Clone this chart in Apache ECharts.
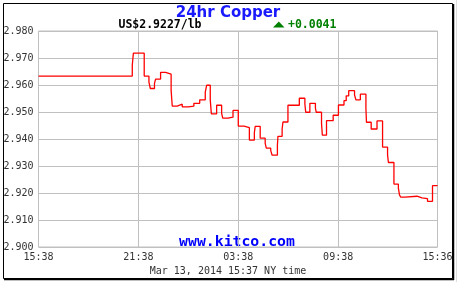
<!DOCTYPE html>
<html>
<head>
<meta charset="utf-8">
<script src="https://cdn.jsdelivr.net/npm/echarts@6/dist/echarts.min.js"></script>
<style>html,body{margin:0;padding:0;background:#fff;}#c{width:458px;height:282px;}</style>
</head>
<body>
<div id="c"></div>
<script>
// minutes since 15:38 (Mar 12) -> price US$/lb, step series
var minutes = [0,338,342,381,398,403,418,422,440,458,478,482,500,518,540,560,581,601,606,619,623,642,660,664,683,701,720,741,760,778,781,799,817,821,837,842,861,863,878,881,899,940,960,963,978,998,1001,1020,1023,1038,1062,1081,1101,1109,1118,1139,1144,1160,1180,1182,1199,1220,1240,1258,1261,1281,1297,1301,1305,1321,1364,1382,1402,1420,1438];
var prices = [2.9633,2.9674,2.9718,2.9633,2.9611,2.9587,2.9606,2.9622,2.9647,2.9640,2.9579,2.9522,2.9529,2.9519,2.9522,2.9532,2.9545,2.9574,2.9599,2.9545,2.9493,2.9525,2.9495,2.9477,2.9481,2.9506,2.9448,2.9442,2.9396,2.9424,2.9447,2.9403,2.9384,2.9366,2.9357,2.9340,2.9376,2.9410,2.9436,2.9463,2.9525,2.9551,2.9530,2.9499,2.9532,2.9514,2.9499,2.9458,2.9414,2.9468,2.9488,2.9526,2.9542,2.9560,2.9579,2.9563,2.9545,2.9566,2.9514,2.9462,2.9437,2.9467,2.9370,2.9341,2.9313,2.9233,2.9218,2.9193,2.9185,2.9188,2.9182,2.9179,2.9169,2.9227,2.9227];
var xTickValues = [0,360,720,1080,1438];
var xTickLabels = ['15:38','21:38','03:38','09:38','15:36'];
var yMin = 2.900, yMax = 2.980, yStep = 0.010;
var titleText = '24hr Copper';
var priceText = 'US$2.9227/lb';
var changeText = '+0.0041';
var siteText = 'www.kitco.com';
var dateText = 'Mar 13, 2014 15:37 NY time';

var data = minutes.map(function(m,i){return [m, prices[i]];});
var mono = 'DejaVu Sans Mono';
var chart = echarts.init(document.getElementById('c'), null, {renderer:'canvas'});
chart.setOption({
  animation:false,
  backgroundColor:'#fff',
  grid:{left:38.5,top:31,width:399,height:216,show:true,borderColor:'#c0c0c0',borderWidth:1,containLabel:false},
  xAxis:{type:'value',min:0,max:1438,interval:360,
    axisLine:{show:false},axisTick:{show:false},
    splitLine:{show:true,lineStyle:{color:'#c0c0c0',width:1}},
    axisLabel:{margin:5,color:'#333',fontFamily:mono,fontSize:10,showMaxLabel:true,showMinLabel:true,
      formatter:function(v){var i=xTickValues.indexOf(Math.round(v));return i>=0?xTickLabels[i]:'';}}},
  yAxis:{type:'value',min:yMin,max:yMax,interval:yStep,
    axisLine:{show:false},axisTick:{show:false},
    splitLine:{show:true,lineStyle:{color:'#c0c0c0',width:1}},
    axisLabel:{margin:5,color:'#333',fontFamily:mono,fontSize:10,formatter:function(v){return v.toFixed(3);}}},
  series:[{type:'line',step:'end',data:data,showSymbol:false,symbol:'none',
    lineStyle:{color:'#ff0000',width:1.3},silent:true}],
  graphic:[
    {type:'rect',shape:{x:3.5,y:3.5,width:449,height:275},style:{fill:null,stroke:'#000',lineWidth:1},silent:true},
    {type:'line',shape:{x1:453.5,y1:4,x2:453.5,y2:280},style:{stroke:'#000',lineWidth:1.5},silent:true},
    {type:'line',shape:{x1:4,y1:279.5,x2:454,y2:279.5},style:{stroke:'#000',lineWidth:1.5},silent:true},
    {type:'line',shape:{x1:456.5,y1:0,x2:456.5,y2:282},style:{stroke:'#dddddd',lineWidth:1},silent:true},
    {type:'text',x:228,y:13,style:{text:titleText,fill:'#1a1aff',font:'bold 15px "DejaVu Sans"',align:'center',verticalAlign:'middle'}},
    {type:'text',x:160,y:25,style:{text:priceText,fill:'#000',font:'bold 11.5px "DejaVu Sans Mono"',align:'center',verticalAlign:'middle'}},
    {type:'polygon',shape:{points:[[278.8,21.5],[284.5,27.5],[273,27.5]]},style:{fill:'#008000'}},
    {type:'text',x:288,y:25,style:{text:changeText,fill:'#008000',font:'bold 11.5px "DejaVu Sans Mono"',align:'left',verticalAlign:'middle'}},
    {type:'text',x:237,y:242,style:{text:siteText,fill:'#0000ff',font:'bold 14.8px "DejaVu Sans Mono"',align:'center',verticalAlign:'middle'}},
    {type:'text',x:228,y:271,style:{text:dateText,fill:'#333',font:'10px "DejaVu Sans Mono"',align:'center',verticalAlign:'middle'}}
  ]
});
</script>
</body>
</html>
